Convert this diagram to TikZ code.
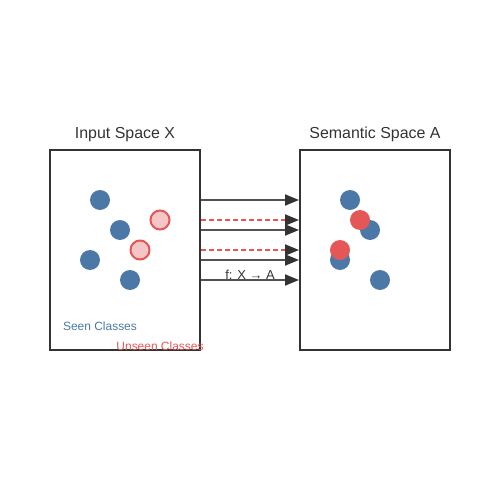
\documentclass[tikz,border=0pt]{standalone}
\usepackage{fontspec}
\setmainfont{Liberation Sans}
\usetikzlibrary{arrows.meta,positioning}
\definecolor{seenblue}{HTML}{4C78A8}
\definecolor{unseenred}{HTML}{E45756}
\definecolor{unseenpink}{HTML}{F4C7C6}
\definecolor{frame}{HTML}{333333}
\tikzset{
    space box/.style={draw=frame,line width=2bp,minimum width=150bp,minimum height=200bp,inner sep=0pt},
    space title/.style={text=frame,font=\fontsize{16}{19}\selectfont},
    seen dot/.style={circle,fill=seenblue,minimum size=20bp,inner sep=0pt},
    unseen dot/.style={circle,fill=unseenpink,draw=unseenred,line width=2bp,minimum size=19bp,inner sep=0pt},
    unseen proj/.style={circle,fill=unseenred,minimum size=20bp,inner sep=0pt},
    arr/.style={-{Triangle[length=14bp,width=11bp,color=frame]},draw=frame!85!white,line width=2bp},
    darr/.style={arr,draw=unseenred,dash pattern=on 5bp off 3bp},
    legend/.style={font=\fontsize{12}{14}\selectfont},
}
\begin{document}
\begin{tikzpicture}[x=1bp,y=-1bp]
    \useasboundingbox (0,0) rectangle (500,500);

    \node[space box] (inbox) at (125,250) {};
    \node[space box] (sembox) at (375,250) {};
    \node[space title,above=4bp of inbox] (intitle) {Input Space X};
    \node[space title,above=4bp of sembox] (semtitle) {Semantic Space A};

    % seen classes
    \foreach \name/\x/\y in {a/100/200,b/120/230,c/90/260,d/130/280}
        \node[seen dot] (in\name) at (\x,\y) {};
    \foreach \name/\x/\y in {a/350/200,b/370/230,c/340/260,d/380/280}
        \node[seen dot] (sem\name) at (\x,\y) {};

    % unseen classes
    \node[unseen dot] (inu) at (160,220) {};
    \node[unseen dot] (inv) at (140,250) {};
    \node[unseen proj] (semu) at (360,220) {};
    \node[unseen proj] (semv) at (340,250) {};

    % mapping f
    \foreach \y in {200,230,260,280} {
        \coordinate (s\y) at (inbox.east |- 0,\y);
        \coordinate (t\y) at (sembox.west |- 0,\y);
        \draw[arr] (s\y) -- (t\y);
    }
    \foreach \y in {220,250} {
        \coordinate (s\y) at (inbox.east |- 0,\y);
        \coordinate (t\y) at (sembox.west |- 0,\y);
        \draw[darr] (s\y) -- (t\y);
    }
    \node[legend,font=\fontsize{13}{15}\selectfont,text=frame] (map) at (250,275) {f: X → A};

    \node[legend,text=seenblue] (seen) at (100,326) {Seen Classes};
    \node[legend,text=unseenred] (unseen) at (160,346) {Unseen Classes};
\end{tikzpicture}
\end{document}
